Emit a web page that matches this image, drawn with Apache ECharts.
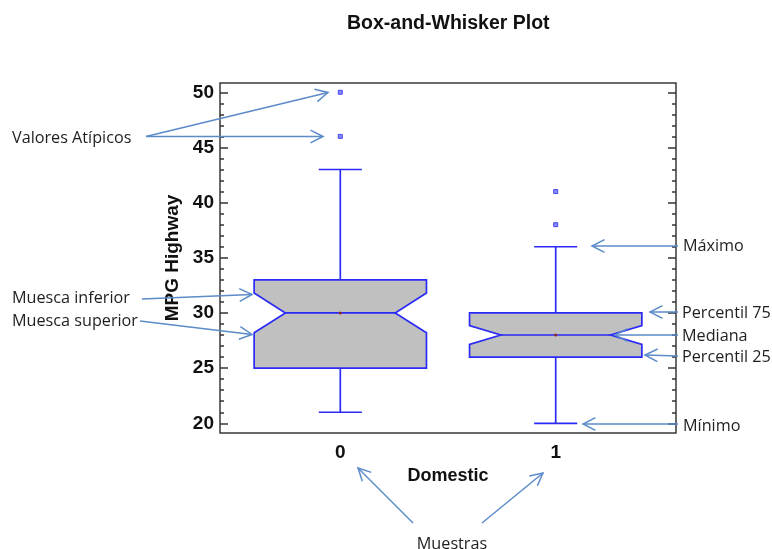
<!DOCTYPE html>
<html><head><meta charset="utf-8">
<script src="https://cdn.jsdelivr.net/npm/echarts@6/dist/echarts.min.js"></script>
<style>html,body{margin:0;padding:0;background:#fff}#c{width:772px;height:549px}</style>
</head><body><div id="c"></div>
<script>
// ---- data ----
const categories = [0, 1];
const categoryLabels = ['0', '1'];
const minimums = [21, 20];
const q1s = [25, 26];
const notchLows = [28.2, 27.15];
const medians = [30, 28];
const notchHighs = [31.8, 28.85];
const q3s = [33, 30];
const maximums = [43, 36];
const means = [30, 28];
const outlierGroups = [[46, 50], [38, 41]];
const yTicks = [20, 25, 30, 35, 40, 45, 50];
const yMinorTicks = [];
for (let v = 20; v <= 50; v++) if (v % 5 !== 0) yMinorTicks.push(v);

// ---- style constants ----
const BLUE = '#2b2bf5';
const FILL = '#c0c0c0';
const BOX_HALF = 0.4, NOTCH_HALF = 0.255, CAP_HALF = 0.1;
const AC = '#5b8bc8';
const AXFONT = 'Liberation Sans, Arial, sans-serif';
const ANNFONT = '16.2px "Open Sans", "Noto Sans", sans-serif';
const Y_MIN = 19.12, Y_MAX = 50.84, X_MIN = -0.5585, X_MAX = 1.5585;

const boxData = categories.map((c, i) => [c, minimums[i], q1s[i], notchLows[i], medians[i], notchHighs[i], q3s[i], maximums[i], means[i]]);
const outlierData = [];
categories.forEach((c, i) => outlierGroups[i].forEach(v => outlierData.push([c, v])));

function renderBox(params, api) {
  const c = api.value(0);
  const mn = api.value(1), q1 = api.value(2), nLo = api.value(3), med = api.value(4),
        nHi = api.value(5), q3 = api.value(6), mx = api.value(7), mean = api.value(8);
  const P = (dx, v) => api.coord([c + dx, v]);
  const W = BOX_HALF, N = NOTCH_HALF, C = CAP_HALF;
  const poly = [P(-W, q3), P(W, q3), P(W, nHi), P(N, med), P(W, nLo), P(W, q1),
                P(-W, q1), P(-W, nLo), P(-N, med), P(-W, nHi)];
  const ln = (a, b) => ({type: 'line', shape: {x1: a[0], y1: a[1], x2: b[0], y2: b[1]},
                         style: {stroke: BLUE, lineWidth: 1.7}});
  const meanPt = P(0, mean);
  return {type: 'group', children: [
    ln(P(0, q3), P(0, mx)),
    ln(P(-C, mx), P(C, mx)),
    ln(P(0, q1), P(0, mn)),
    ln(P(-C, mn), P(C, mn)),
    {type: 'polygon', shape: {points: poly}, style: {fill: FILL, stroke: BLUE, lineWidth: 1.7}},
    ln(P(-N, med), P(N, med)),
    {type: 'circle', shape: {cx: meanPt[0], cy: meanPt[1], r: 1.5}, style: {fill: '#8a2a2a'}}
  ]};
}

function arrow(x1, y1, x2, y2) {
  const a = Math.atan2(y2 - y1, x2 - x1), L = 14, s = 0.47;
  const h1 = [x2 - L * Math.cos(a - s), y2 - L * Math.sin(a - s)];
  const h2 = [x2 - L * Math.cos(a + s), y2 - L * Math.sin(a + s)];
  return [
    {type: 'line', z: 100, shape: {x1, y1, x2, y2}, style: {stroke: AC, lineWidth: 1.5}},
    {type: 'polyline', z: 100, shape: {points: [h1, [x2, y2], h2]}, style: {stroke: AC, lineWidth: 1.5, fill: null}}
  ];
}
function label(text, x, y, align) {
  return {type: 'text', z: 100, style: {text, x, y, fill: '#1e1e1e', font: ANNFONT, align: align || 'left', verticalAlign: 'middle'}};
}

const graphics = [].concat(
  label('Valores Atípicos', 12, 138),
  arrow(146, 136.5, 328, 92.5),
  arrow(146, 136.5, 323, 136.5),
  label('Muesca inferior', 12, 298),
  arrow(142, 299, 252, 294.5),
  label('Muesca superior', 12, 321),
  arrow(140, 321, 252, 334.5),
  label('Máximo', 683, 246),
  arrow(678, 246, 592, 246),
  label('Percentil 75', 682, 313),
  arrow(678, 312, 650, 312),
  label('Mediana', 682, 336),
  arrow(678, 335, 615, 335),
  label('Percentil 25', 682, 357),
  arrow(678, 356, 645, 355),
  label('Mínimo', 683, 426),
  arrow(678, 424, 583, 424),
  label('Muestras', 452, 544, 'center'),
  arrow(413, 523, 358, 468),
  arrow(482, 523, 543, 473)
);

const axisText = {fontFamily: AXFONT, fontSize: 19, fontWeight: 'bold', color: '#111'};
const gridRect = {left: 220, right: 96, top: 83, bottom: 116};
const tickStyle = {color: '#333', width: 1.5};

function yAx(grid, pos, len, ticks, withLabels) {
  const ax = {type: 'value', gridIndex: grid, position: pos, min: Y_MIN, max: Y_MAX,
    axisLine: {show: false, onZero: false}, splitLine: {show: false},
    axisTick: {inside: true, length: len, customValues: ticks, lineStyle: tickStyle},
    axisLabel: withLabels ? Object.assign({customValues: yTicks, margin: 6}, axisText) : {show: false}};
  if (withLabels) Object.assign(ax, {name: 'MPG Highway', nameLocation: 'middle', nameGap: 31, nameRotate: 90,
     nameTextStyle: {fontFamily: AXFONT, fontSize: 19, fontWeight: 'bold', color: '#111'}});
  return ax;
}

const chart = echarts.init(document.getElementById('c'), null, {renderer: 'canvas'});
chart.setOption({
  animation: false,
  backgroundColor: '#fff',
  title: {text: 'Box-and-Whisker Plot', left: 342, top: 9,
          textStyle: {fontFamily: AXFONT, fontSize: 19.5, fontWeight: 'bold', color: '#111'}},
  grid: [
    Object.assign({show: true, borderColor: '#3a3a3a', borderWidth: 1.5, backgroundColor: 'transparent'}, gridRect),
    Object.assign({show: false}, gridRect)
  ],
  xAxis: [
    {type: 'value', gridIndex: 0, min: X_MIN, max: X_MAX,
     axisLine: {show: false, onZero: false}, splitLine: {show: false}, axisTick: {show: false},
     axisLabel: Object.assign({customValues: categories, margin: 10,
       formatter: v => categoryLabels[categories.indexOf(v)]}, axisText),
     name: 'Domestic', nameLocation: 'middle', nameGap: 33,
     nameTextStyle: {fontFamily: AXFONT, fontSize: 18, fontWeight: 'bold', color: '#111'}},
    {type: 'value', gridIndex: 1, min: X_MIN, max: X_MAX, show: false, axisLine: {onZero: false}}
  ],
  yAxis: [
    yAx(0, 'left', 8, yTicks, true),
    yAx(0, 'right', 8, yTicks, false),
    yAx(1, 'left', 4, yMinorTicks, false),
    yAx(1, 'right', 4, yMinorTicks, false)
  ],
  series: [
    {type: 'custom', name: 'box', xAxisIndex: 0, yAxisIndex: 0, renderItem: renderBox,
     encode: {x: 0, y: [1, 2, 3, 4, 5, 6, 7, 8]}, data: boxData, z: 3},
    {type: 'scatter', name: 'outliers', xAxisIndex: 0, yAxisIndex: 0, data: outlierData,
     symbol: 'rect', symbolSize: 4, itemStyle: {color: '#6a6aff', borderColor: '#2a2af0', borderWidth: 1}, z: 4}
  ],
  graphic: graphics
});
</script></body></html>
